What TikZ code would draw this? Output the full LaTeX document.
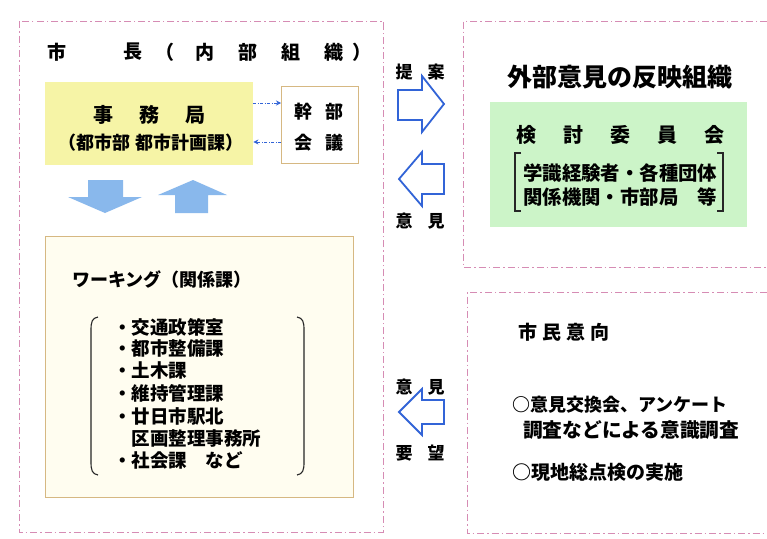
\documentclass[tikz,border=0pt]{standalone}
\usepackage{fontspec}
\setmainfont{Noto Sans CJK JP}
\usetikzlibrary{calc,arrows.meta}
\definecolor{pinkdash}{RGB}{214,140,180}
\definecolor{yelfill}{RGB}{246,244,166}
\definecolor{greenfill}{RGB}{204,244,200}
\definecolor{arrowblue}{RGB}{137,184,236}
\definecolor{outlineblue}{RGB}{50,100,215}
\definecolor{tanline}{RGB}{214,184,130}
\definecolor{cream}{RGB}{255,253,240}
\newcommand\jsz[1]{\fontsize{#1}{#1}\selectfont\bfseries}
\begin{document}
\begin{tikzpicture}[x=1pt,y=-1pt,
 regionbox/.style={draw=pinkdash, line width=0.9pt, dash pattern=on 7pt off 3pt on 1.5pt off 3pt},
 txt/.style={inner sep=0pt, text=black},
 fatarrow/.style={fill=arrowblue, draw=none},
 hollowarrow/.style={draw=outlineblue, line width=1.8pt, fill=white, line join=miter},
 dotlink/.style={draw=outlineblue, line width=0.9pt, dash pattern=on 3pt off 1.5pt on 1pt off 1.5pt, -{Stealth[length=5pt,width=5pt]}},
 bracket/.style={draw=black!85, line width=1.1pt},
 panel/.style={inner sep=0pt, anchor=north west},
]
\useasboundingbox (0,0) rectangle (767,538);
\fill[white] (0,0) rectangle (767,538);

% regions
\draw[regionbox] (19,21) rectangle (383,532);
\draw[regionbox] (767,21) -- (463,21) -- (463,267) -- (767,267);
\draw[regionbox] (767,292) -- (467,292) -- (467,533) -- (767,533);

% title
\foreach \c/\xx [count=\i] in {市/57, 長/133, （/165, 内/205, 部/248, 組/291, 織/334, ）/362}
  \node[txt] (title\i) at (\xx,52) {\jsz{19}\c};

% jimukyoku
\node[panel, fill=yelfill, minimum width=208, minimum height=83] (jimu) at (45,82) {};
\node[txt] (jimut) at (149,115) {\jsz{20}事\hspace{26pt}務\hspace{26pt}局};
\node[txt] (jimus) at (151,143) {\jsz{18}（都市部 都市計画課）};

% kanbu kaigi
\node[panel, draw=tanline, fill=white, line width=0.9pt, minimum width=77, minimum height=77] (kanbu) at (281,86) {};
\node[txt] (kanbu1) at (319,112) {\jsz{18}幹\hspace{14pt}部};
\node[txt] (kanbu2) at (319,143) {\jsz{18}会\hspace{14pt}議};

\draw[dotlink] (jimu.east |- 0,103) -- (kanbu.west |- 0,103);
\draw[dotlink] (kanbu.west |- 0,142) -- (jimu.east |- 0,142);

% fat arrows
\fill[fatarrow] (88,180) -- (123,180) -- (123,197) -- (142,197) -- (105,213) -- (68,197) -- (88,197) -- cycle;
\fill[fatarrow] (193,180) -- (227,195) -- (208,195) -- (208,213) -- (175,213) -- (175,195) -- (158,195) -- cycle;

% working
\node[panel, draw=tanline, fill=cream, line width=0.8pt, minimum width=308, minimum height=261] (work) at (45,236) {};
\node[txt, anchor=west] (workt) at (72,280) {\jsz{18}ワーキング（関係課）};
\draw[bracket] (98,317) .. controls (92,318) and (91,322) .. (91,330) -- (91,462) .. controls (91,470) and (92,474) .. (98,475);
\draw[bracket] (297,317) .. controls (303,318) and (304,322) .. (304,330) -- (304,462) .. controls (304,470) and (303,474) .. (297,475);
\foreach \t/\yy [count=\i] in {・交通政策室/327, ・都市整備課/348, ・土木課/370, ・維持管理課/393, ・廿日市駅北/416, 　区画整理事務所/438, ・社会課　など/460}
  \node[txt, anchor=west] (item\i) at (113,\yy) {\jsz{18.5}\t};

% middle arrows and labels
\node[txt] (teian) at (420,72) {\jsz{17}提\hspace{15pt}案};
\draw[hollowarrow] (398,90) -- (422,90) -- (422,76) -- (444,104) -- (422,132) -- (422,120) -- (398,120) -- cycle;
\draw[hollowarrow] (444,164) -- (422,164) -- (422,152) -- (399,179) -- (422,206) -- (422,194) -- (444,194) -- cycle;
\node[txt] (iken1) at (420,221) {\jsz{17}意\hspace{15pt}見};
\node[txt] (iken2) at (420,387) {\jsz{17}意\hspace{15pt}見};
\draw[hollowarrow] (444,400) -- (422,400) -- (422,389) -- (399,412) -- (422,435) -- (422,424) -- (444,424) -- cycle;
\node[txt] (youbou) at (420,453) {\jsz{17}要\hspace{15pt}望};

% external
\node[txt] (gaibu) at (620,77) {\jsz{25}外部意見の反映組織};
\node[panel, fill=greenfill, minimum width=257, minimum height=125] (kentou) at (490,102) {};
\node[txt] (kentout) at (620,135) {\jsz{20}検\hspace{27pt}討\hspace{27pt}委\hspace{27pt}員\hspace{27pt}会};
\node[txt, anchor=west] (mem1) at (523,173) {\jsz{19.4}学識経験者・各種団体};
\node[txt, anchor=west] (mem2) at (523,197) {\jsz{19.4}関係機関・市部局　等};
\draw[bracket] (521,153) -- (515,153) -- (515,211) -- (521,211);
\draw[bracket] (717,153) -- (723,153) -- (723,211) -- (717,211);

% citizens
\node[txt, anchor=west] (shimin) at (518,332) {\jsz{19}市\hspace{5pt}民\hspace{5pt}意\hspace{5pt}向};
\node[txt, anchor=west] (s1) at (512,405) {\jsz{18}○意見交換会、アンケート};
\node[txt, anchor=west] (s2) at (523,430) {\jsz{19.7}調査などによる意識調査};
\node[txt, anchor=west] (s3) at (512,472) {\jsz{19}○現地総点検の実施};
\end{tikzpicture}
\end{document}
